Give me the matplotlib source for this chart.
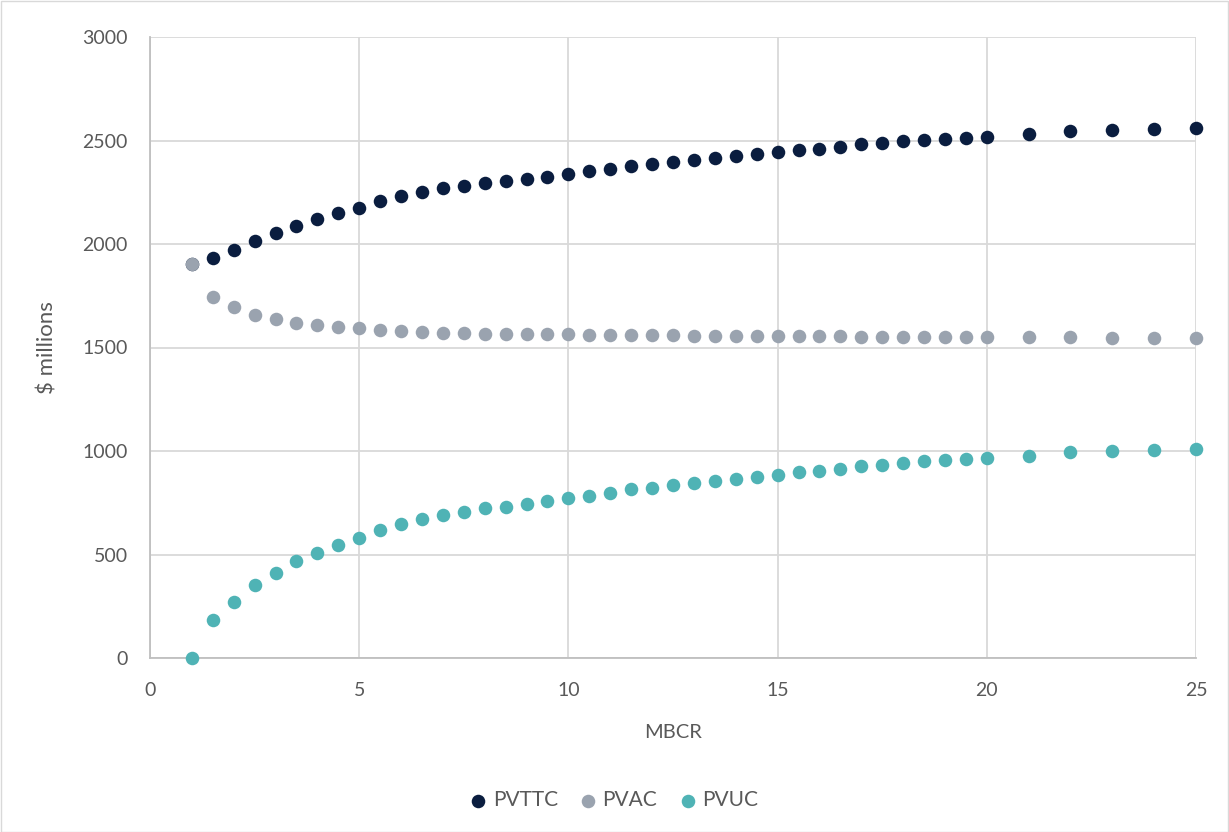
import matplotlib
matplotlib.use("Agg")
import matplotlib.pyplot as plt
from matplotlib.patches import Rectangle

plt.rcParams['font.family'] = ['Lato', 'DejaVu Sans']

mbcr = [1, 1.5, 2, 2.5, 3, 3.5, 4, 4.5, 5, 5.5, 6, 6.5, 7, 7.5, 8, 8.5, 9, 9.5, 10,
        10.5, 11, 11.5, 12, 12.5, 13, 13.5, 14, 14.5, 15, 15.5, 16, 16.5, 17, 17.5,
        18, 18.5, 19, 19.5, 20, 21, 22, 23, 24, 25]

pvttc = [1902, 1932, 1969, 2014, 2052, 2089, 2121, 2148, 2175, 2209, 2232, 2251, 2269,
         2282, 2295, 2304, 2314, 2325, 2338, 2351, 2364, 2377, 2385, 2398, 2407, 2414,
         2423, 2436, 2443, 2453, 2459, 2470, 2481, 2488, 2496, 2502, 2509, 2514, 2519,
         2531, 2548, 2552, 2556, 2562]

pvac = [1902, 1746, 1696, 1659, 1638, 1620, 1609, 1599, 1593, 1586, 1580, 1575, 1572,
        1570, 1567, 1565, 1564, 1563, 1563, 1562, 1561, 1560, 1559, 1558, 1557, 1557,
        1556, 1556, 1555, 1555, 1554, 1554, 1553, 1553, 1552, 1552, 1552, 1551, 1551,
        1550, 1549, 1548, 1548, 1547]

pvuc = [0, 184, 272, 353, 412, 467, 506, 546, 580, 618, 649, 671, 691, 707, 723, 731,
        746, 757, 773, 784, 797, 815, 823, 836, 845, 855, 863, 876, 886, 897, 905, 915,
        926, 932, 940, 950, 957, 961, 965, 977, 995, 1000, 1005, 1011]

series_names = ["PVTTC", "PVAC", "PVUC"]
colors = ["#0A1D3F", "#9AA3AF", "#4FB3B5"]

fig = plt.figure(figsize=(12.29, 8.32), dpi=100)
ax = fig.add_axes([150/1229, 1-658/832, (1196-150)/1229, (658-37)/832])

for name, ys, c in zip(series_names, [pvttc, pvac, pvuc], colors):
    ax.scatter(mbcr, ys, s=95, color=c, label=name, zorder=3, clip_on=False, linewidths=0)

ax.set_xlim(0, 25)
ax.set_ylim(0, 3000)
ax.set_xticks([0, 5, 10, 15, 20, 25])
ax.set_yticks([0, 500, 1000, 1500, 2000, 2500, 3000])
ax.grid(True, color="#D9D9D9", linewidth=1.3, zorder=0)
ax.set_axisbelow(True)
for s in ["top", "right"]:
    ax.spines[s].set_visible(False)
for s in ["left", "bottom"]:
    ax.spines[s].set_color("#BFBFBF")
    ax.spines[s].set_linewidth(1.3)
ax.tick_params(length=0, labelsize=14, labelcolor="#595959")
ax.tick_params(axis="y", pad=16)
ax.tick_params(axis="x", pad=17)

ax.set_xlabel("MBCR", fontsize=14.5, color="#595959", labelpad=18)
ax.set_ylabel("$ millions", fontsize=16, color="#595959", labelpad=18)

leg = fig.legend(loc="center", bbox_to_anchor=(0.5, 1-800/832), ncol=3, frameon=False,
                 fontsize=15, handlelength=0.7, handletextpad=0.35, columnspacing=1.1,
                 markerscale=1.0)
for t in leg.get_texts():
    t.set_color("#595959")

fig.patches.append(Rectangle((0.5/1229, 0.5/832), 1-1.5/1229, 1-1.5/832, transform=fig.transFigure,
                             fill=False, edgecolor="#D9D9D9", linewidth=1))

fig.savefig("out.png", dpi=100, facecolor="white")
